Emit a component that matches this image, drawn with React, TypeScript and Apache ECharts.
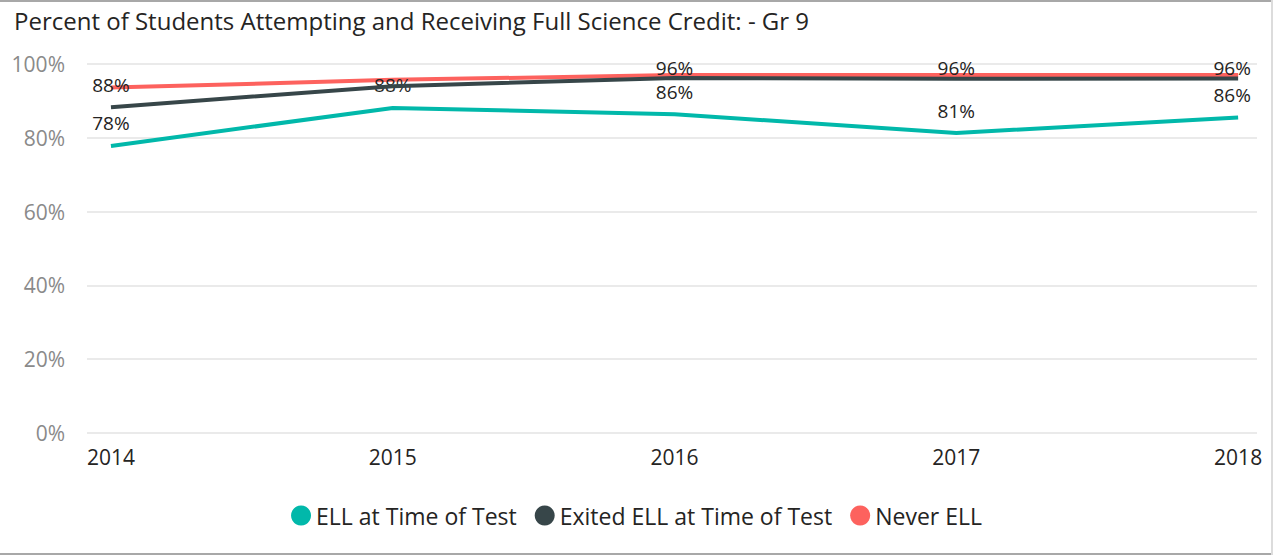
import React, { useEffect, useRef } from "react";
import * as echarts from "echarts";

const years = [2014, 2015, 2016, 2017, 2018];
const yTicks = [0, 20, 40, 60, 80, 100];
const ellAtTest = [77.8, 88.1, 86.4, 81.3, 85.5];
const exitedEll = [88.3, 94.0, 96.2, 96.0, 96.1];
const neverEll = [93.6, 95.7, 97.0, 97.0, 97.0];
const ellLabels = [true, true, true, true, true];
const exitedLabels = [true, false, true, true, true];
const neverLabels = [false, false, false, false, false];
const seriesNames = ["ELL at Time of Test", "Exited ELL at Time of Test", "Never ELL"];
const colors = ["#01B8AA", "#374649", "#FD625E"];
const titleText = "Percent of Students Attempting and Receiving Full Science Credit: - Gr 9";

const FONT = "'Open Sans', 'Noto Sans', sans-serif";
const GRID_TOP = 64;
const GRID_BOTTOM_PX = 433;

function buildSeries(name: string, values: number[], show: boolean[], color: string, z: number) {
  return {
    name,
    type: "line",
    z,
    symbol: "circle",
    symbolSize: 0,
    showSymbol: true,
    lineStyle: { width: 4, color },
    itemStyle: { color },
    data: values.map((v, i) => {
      // keep labels inside the plot area (as the reference does)
      const py = GRID_BOTTOM_PX - (v / 100) * (GRID_BOTTOM_PX - GRID_TOP);
      const center = py - 23;
      const push = Math.max(0, GRID_TOP + 3 - center);
      return {
        value: [years[i], v],
        label: {
          show: show[i],
          position: "top",
          distance: 13,
          offset: [i === years.length - 1 ? -6 : 0, push],
          formatter: () => Math.round(v) + "%",
          color: "#252423",
          fontFamily: FONT,
          fontSize: 19,
          lineHeight: 19,
        },
      };
    }),
  };
}

export default function App() {
  const ref = useRef<HTMLDivElement>(null);
  useEffect(() => {
    const el = ref.current!;
    const chart = echarts.init(el, undefined, { renderer: "svg" });
    chart.setOption({
      animation: false,
      backgroundColor: "#ffffff",
      title: {
        text: titleText,
        left: 9,
        top: 3,
        textStyle: { fontFamily: FONT, fontSize: 24, fontWeight: "normal", color: "#252423" },
      },
      legend: {
        bottom: 23,
        left: "center",
        icon: "circle",
        itemWidth: 20,
        itemHeight: 20,
        itemGap: 18,
        textStyle: { fontFamily: FONT, fontSize: 23, color: "#252423" },
        data: seriesNames,
      },
      grid: { left: 87, right: 16, top: GRID_TOP, bottom: 555 - GRID_BOTTOM_PX, containLabel: false },
      xAxis: {
        type: "value",
        min: 2013.915,
        max: 2018.067,
        axisLine: { show: false },
        axisTick: { show: false },
        splitLine: { show: false },
        axisLabel: {
          customValues: years,
          formatter: (v: number) => String(v),
          color: "#252423",
          fontFamily: FONT,
          fontSize: 21,
          margin: 13,
        },
      },
      yAxis: {
        type: "value",
        min: 0,
        max: 100,
        interval: 20,
        axisLine: { show: false },
        axisTick: { show: false },
        splitLine: { lineStyle: { color: "#EAEAEA", width: 2 } },
        axisLabel: {
          customValues: yTicks,
          formatter: (v: number) => v + "%",
          color: "#8a8a8a",
          fontFamily: FONT,
          fontSize: 21,
          margin: 22,
        },
      },
      series: [
        buildSeries(seriesNames[0], ellAtTest, ellLabels, colors[0], 3),
        buildSeries(seriesNames[1], exitedEll, exitedLabels, colors[1], 4),
        buildSeries(seriesNames[2], neverEll, neverLabels, colors[2], 2),
      ],
      graphic: [
        { type: "rect", shape: { x: 0, y: 0, width: 1273, height: 2 }, style: { fill: "#a8a8a8" }, silent: true },
        { type: "rect", shape: { x: 0, y: 553, width: 1273, height: 2 }, style: { fill: "#a8a8a8" }, silent: true },
        { type: "rect", shape: { x: 1271, y: 0, width: 2, height: 555 }, style: { fill: "#dcdcdc" }, silent: true },
      ],
    });
    return () => chart.dispose();
  }, []);
  return (
    <div
      ref={ref}
      style={{ position: "fixed", left: 0, top: 0, width: 1273, height: 555 }}
    />
  );
}
